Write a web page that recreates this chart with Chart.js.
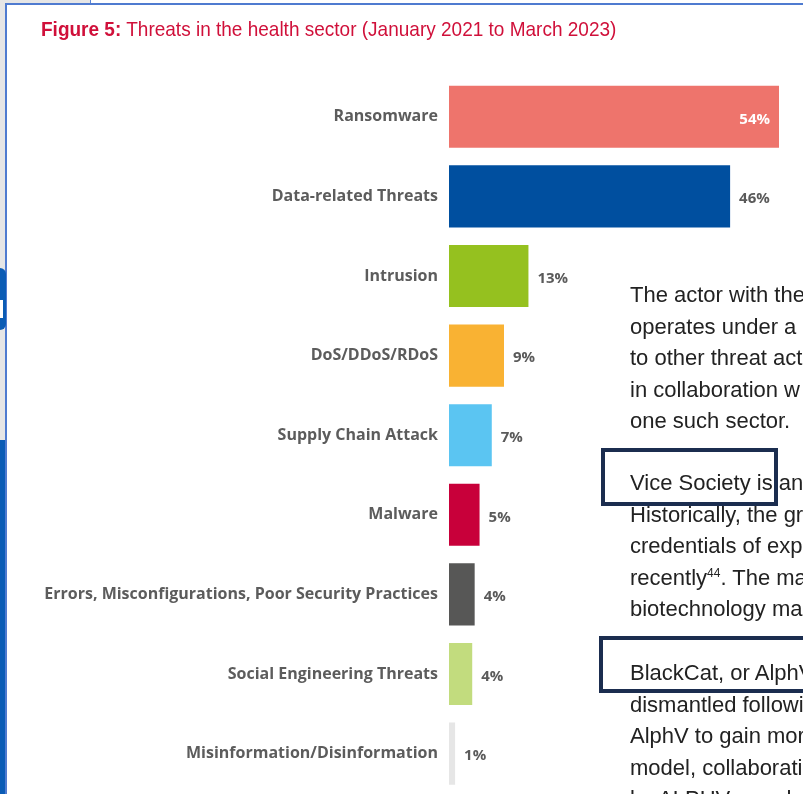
<!DOCTYPE html>
<html>
<head>
<meta charset="utf-8">
<script src="https://cdn.jsdelivr.net/npm/chart.js@4"></script>
<style>
  html, body { margin:0; padding:0; background:#fff; }
  #page { position:relative; width:803px; height:794px; overflow:hidden; background:#fff; }
  #chartWrap { position:absolute; left:0; top:0; width:803px; height:814px; }
  .title { position:absolute; left:41px; top:17px; font-family:"Liberation Sans", Arial, sans-serif; font-size:21px; color:#d0103a; white-space:nowrap; transform:scaleX(0.905); transform-origin:left; }
  .title b { font-weight:bold; }
  .para { position:absolute; left:630px; font-family:"Liberation Sans", Arial, sans-serif; font-size:22px; color:#222; line-height:31.5px; white-space:nowrap; }
  .box { position:absolute; border:4px solid #1b2d4f; box-sizing:border-box; }
  .edge { position:absolute; }
</style>
</head>
<body>
<div id="page">
  <div class="edge" style="left:0;top:0;width:5px;height:794px;background:#e6e6e6"></div>
  <div class="edge" style="left:0;top:0;width:90px;height:3px;background:#e6e6e6"></div>
  <div class="edge" style="left:90px;top:0;width:1px;height:3px;background:#5b86d6"></div>
  <div class="edge" style="left:5px;top:3px;width:798px;height:2px;background:#4f7bd0"></div>
  <div class="edge" style="left:5px;top:3px;width:2px;height:791px;background:#4f7bd0"></div>
  <div class="edge" style="left:0;top:440px;width:5px;height:354px;background:#0b5cb5"></div>
  <div class="edge" style="left:0;top:268px;width:6px;height:62px;background:#0b5cb5;border-radius:0 6px 6px 0"></div>
  <div class="edge" style="left:0;top:300px;width:3px;height:18px;background:#fff"></div>

  <div id="chartWrap"><canvas id="threatChart" width="803" height="814"></canvas></div>

  <div class="title"><b>Figure 5:</b> Threats in the health sector (January 2021 to March 2023)</div>

  <div class="para" style="top:279px">The actor with the<br>operates under a<br>to other threat act<br>in collaboration w<br>one such sector.</div>
  <div class="para" style="top:467px">Vice Society is an<br>Historically, the gr<br>credentials of exp<br>recently<sup style="font-size:12px;line-height:0">44</sup>. The ma<br>biotechnology ma</div>
  <div class="para" style="top:657px">BlackCat, or AlphV<br>dismantled followi<br>AlphV to gain mor<br>model, collaborati<br>by ALPHV are ph</div>
  <div class="box" style="left:601px;top:448px;width:177px;height:58px"></div>
  <div class="box" style="left:599px;top:636px;width:210px;height:57px"></div>
</div>
<script>
var categories = ['Ransomware','Data-related Threats','Intrusion','DoS/DDoS/RDoS','Supply Chain Attack','Malware','Errors, Misconfigurations, Poor Security Practices','Social Engineering Threats','Misinformation/Disinformation'];
var shares = [54, 46, 13, 9, 7, 5, 4.2, 3.8, 1];
var shareLabels = ['54%','46%','13%','9%','7%','5%','4%','4%','1%'];
var barColors = ['#ee746c','#004f9f','#95c11f','#f9b233','#5bc5f2','#c8003a','#575756','#c2dc7e','#e6e6e6'];

// value labels next to (or inside) each bar
var valueLabels = {
    id: 'valueLabels',
    afterDatasetsDraw: function(chart) {
        var ctx = chart.ctx;
        var bars = chart.getDatasetMeta(0).data;
        ctx.save();
        ctx.font = 'bold 15px "Open Sans", sans-serif';
        ctx.textBaseline = 'middle';
        bars.forEach(function(bar, i) {
            if (i === 0) {
                ctx.fillStyle = '#ffffff';
                ctx.textAlign = 'right';
                ctx.fillText(shareLabels[i], bar.x - 9, bar.y + 2.5);
            } else {
                ctx.fillStyle = '#5a5a5a';
                ctx.textAlign = 'left';
                ctx.fillText(shareLabels[i], bar.x + 9, bar.y + 2.5);
            }
        });
        ctx.restore();
    }
};

new Chart(document.getElementById('threatChart'), {
    type: 'bar',
    data: {
        labels: categories,
        datasets: [{
            data: shares,
            backgroundColor: barColors,
            barPercentage: 0.78,
            categoryPercentage: 1
        }]
    },
    options: {
        indexAxis: 'y',
        responsive: false,
        animation: false,
        layout: { padding: { top: 77, right: 24, bottom: 0, left: 0 } },
        plugins: { legend: { display: false }, tooltip: { enabled: false } },
        scales: {
            x: { display: false, min: 0, max: 54 },
            y: {
                grid: { display: false, drawTicks: false },
                border: { display: false },
                ticks: {
                    padding: 11,
                    color: '#5c5c5c',
                    font: { family: '"Open Sans", sans-serif', size: 16, weight: 'bold' }
                },
                afterFit: function(scale) { scale.width = 449; }
            }
        }
    },
    plugins: [valueLabels]
});
</script>
</body>
</html>
